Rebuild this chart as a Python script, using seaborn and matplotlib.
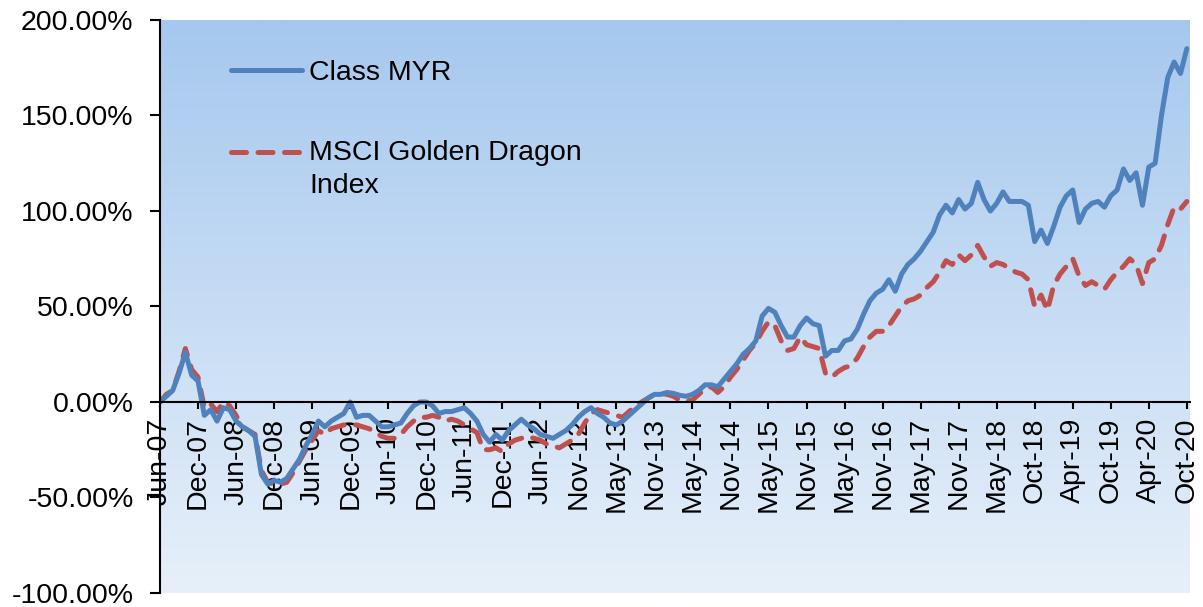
import numpy as np
import pandas as pd
import matplotlib
matplotlib.use("Agg")
import matplotlib.pyplot as plt
from matplotlib.colors import LinearSegmentedColormap
import seaborn as sns

# monthly cumulative return (%), one value per category on the axis
class_myr = [0, 3, 6, 15, 26, 14, 11, -7, -4, -10,
             -3, -4, -10, -13, -15, -18, -38, -43, -41, -42,
             -40, -35, -30, -23, -17, -10, -13, -10, -8, -6,
             0, -8, -7, -7, -10, -13, -13, -12, -11, -6,
             -2, 0, 0, -2, -6, -5, -5, -4, -3, -6,
             -10, -17, -21, -17, -20, -15, -12, -9, -12, -14,
             -17, -18, -19, -17, -15, -12, -8, -5, -3, -6,
             -8, -11, -12, -10, -7, -4, -1, 2, 4, 4,
             5, 4.5, 3.5, 3, 4, 6, 9, 9, 8, 12,
             16, 20, 25, 28, 32, 45, 49, 47, 40, 34,
             34, 40, 44, 41, 40, 24, 27, 27, 32, 33,
             38, 46, 53, 57, 59, 64, 58, 67, 72, 75,
             79, 84, 89, 98, 103, 99, 106, 101, 104, 115,
             106, 100, 104, 110, 105, 105, 105, 103, 84, 90,
             83, 92, 102, 108, 111, 94, 101, 104, 105, 102,
             108, 111, 122, 116, 120, 103, 123, 125, 150, 170,
             178, 172, 185]

msci_gd = [0, 4, 6, 16, 28, 17, 13, -3, -1, -5,
           0, -2, -7, -13, -15, -17, -36, -42, -43, -43,
           -42, -37, -31, -25, -20, -15, -17, -14, -13, -12,
           -12, -12, -13, -14, -16, -18, -19, -19, -17, -13,
           -10, -8, -8, -7, -8, -10, -9, -10, -12, -14,
           -16, -25, -25, -24, -26, -22, -20, -19, -18, -19,
           -20, -22, -23, -24, -22, -20, -17, -11, -6, -4,
           -5, -6, -7, -8, -5, -2, 0, 2, 4, 4.5,
           4, 3, 1, 0.5, 1, 4, 7, 8, 5, 8,
           13, 17, 22, 27, 31, 37, 42, 40, 32, 27,
           28, 34, 30, 29, 28, 15, 13, 16, 18, 19,
           23, 29, 34, 37, 37, 40, 45, 50, 53, 54,
           56, 60, 63, 68, 74, 72, 77, 74, 77, 82,
           76, 71, 73, 72, 70, 68, 67, 64, 50, 56,
           48, 61, 67, 71, 75, 66, 61, 63, 61, 59,
           64, 68, 71, 75, 72, 62, 73, 75, 82, 93,
           102, 101, 105]

tick_labels = ["Jun-07", "Dec-07", "Jun-08", "Dec-08", "Jun-09", "Dec-09", "Jun-10",
               "Dec-10", "Jun-11", "Dec-11", "Jun-12", "Nov-12", "May-13", "Nov-13",
               "May-14", "Nov-14", "May-15", "Nov-15", "May-16", "Nov-16", "May-17",
               "Nov-17", "May-18", "Oct-18", "Apr-19", "Oct-19", "Apr-20", "Oct-20"]
y_ticks = [-100, -50, 0, 50, 100, 150, 200]
y_tick_labels = ["-100.00%", "-50.00%", "0.00%", "50.00%", "100.00%", "150.00%", "200.00%"]

df = pd.DataFrame({"idx": np.arange(len(class_myr)), "myr": class_myr, "msci": msci_gd})

sns.set_style("ticks")
plt.rcParams["font.family"] = ["Liberation Sans", "DejaVu Sans"]
fs = 20.5

fig = plt.figure(figsize=(12.03, 6.07), dpi=100, facecolor="white")
ax = fig.add_axes([160 / 1203, 1 - 593 / 607, 1030 / 1203, 573 / 607])

# gradient plot area
grad = LinearSegmentedColormap.from_list("bg", ["#A6C8EE", "#E7F0FA"])
ax.imshow(np.linspace(0, 1, 256).reshape(-1, 1), cmap=grad, aspect="auto",
          extent=[0, 1, 0, 1], transform=ax.transAxes, zorder=0)

sns.lineplot(data=df, x="idx", y="myr", ax=ax, color="#4F81BD", linewidth=3.6,
             label="Class MYR", zorder=3)
sns.lineplot(data=df, x="idx", y="msci", ax=ax, color="#C0504D", linewidth=3.6,
             linestyle=(0, (3.0, 2.3)), dash_capstyle="round",
             label="MSCI Golden Dragon\nIndex", zorder=2)

# spine position first: moving it resets the ticks
ax.spines["top"].set_visible(False)
ax.spines["right"].set_visible(False)
ax.spines["bottom"].set_position(("data", 0))
for s in ["left", "bottom"]:
    ax.spines[s].set_color("black")
    ax.spines[s].set_linewidth(1.5)
    ax.spines[s].set_zorder(4)
ax.set_axisbelow(True)  # lines run over the tick labels, as in the original

ax.set_xlim(0, len(class_myr) - 0.5)
ax.set_ylim(-100, 200)
ax.set_xticks(np.arange(0, len(class_myr), 6))
ax.set_xticklabels(tick_labels)
ax.set_yticks(y_ticks)
ax.set_yticklabels(y_tick_labels)
ax.set_xlabel("")
ax.set_ylabel("")
ax.tick_params(axis="x", direction="out", length=5, width=1.5, pad=6,
               color="black", labelcolor="black", labelsize=fs, labelrotation=90)
ax.tick_params(axis="y", direction="out", length=7, width=1.5, pad=12,
               color="black", labelcolor="black", labelsize=fs)

leg = ax.legend(loc="upper left", bbox_to_anchor=(0.055, 0.955), frameon=False,
                fontsize=fs, handlelength=2.5, handletextpad=0.25, labelspacing=1.9,
                borderpad=0)
for t in leg.get_texts():
    t.set_color("black")
    t.set_linespacing(1.32)
# put the dashed handle next to the first line of its two-line label
h = leg.get_lines()[1]
h.set_ydata(np.asarray(h.get_ydata()) + 12.3)

fig.savefig("out.png", dpi=100, facecolor="white")
